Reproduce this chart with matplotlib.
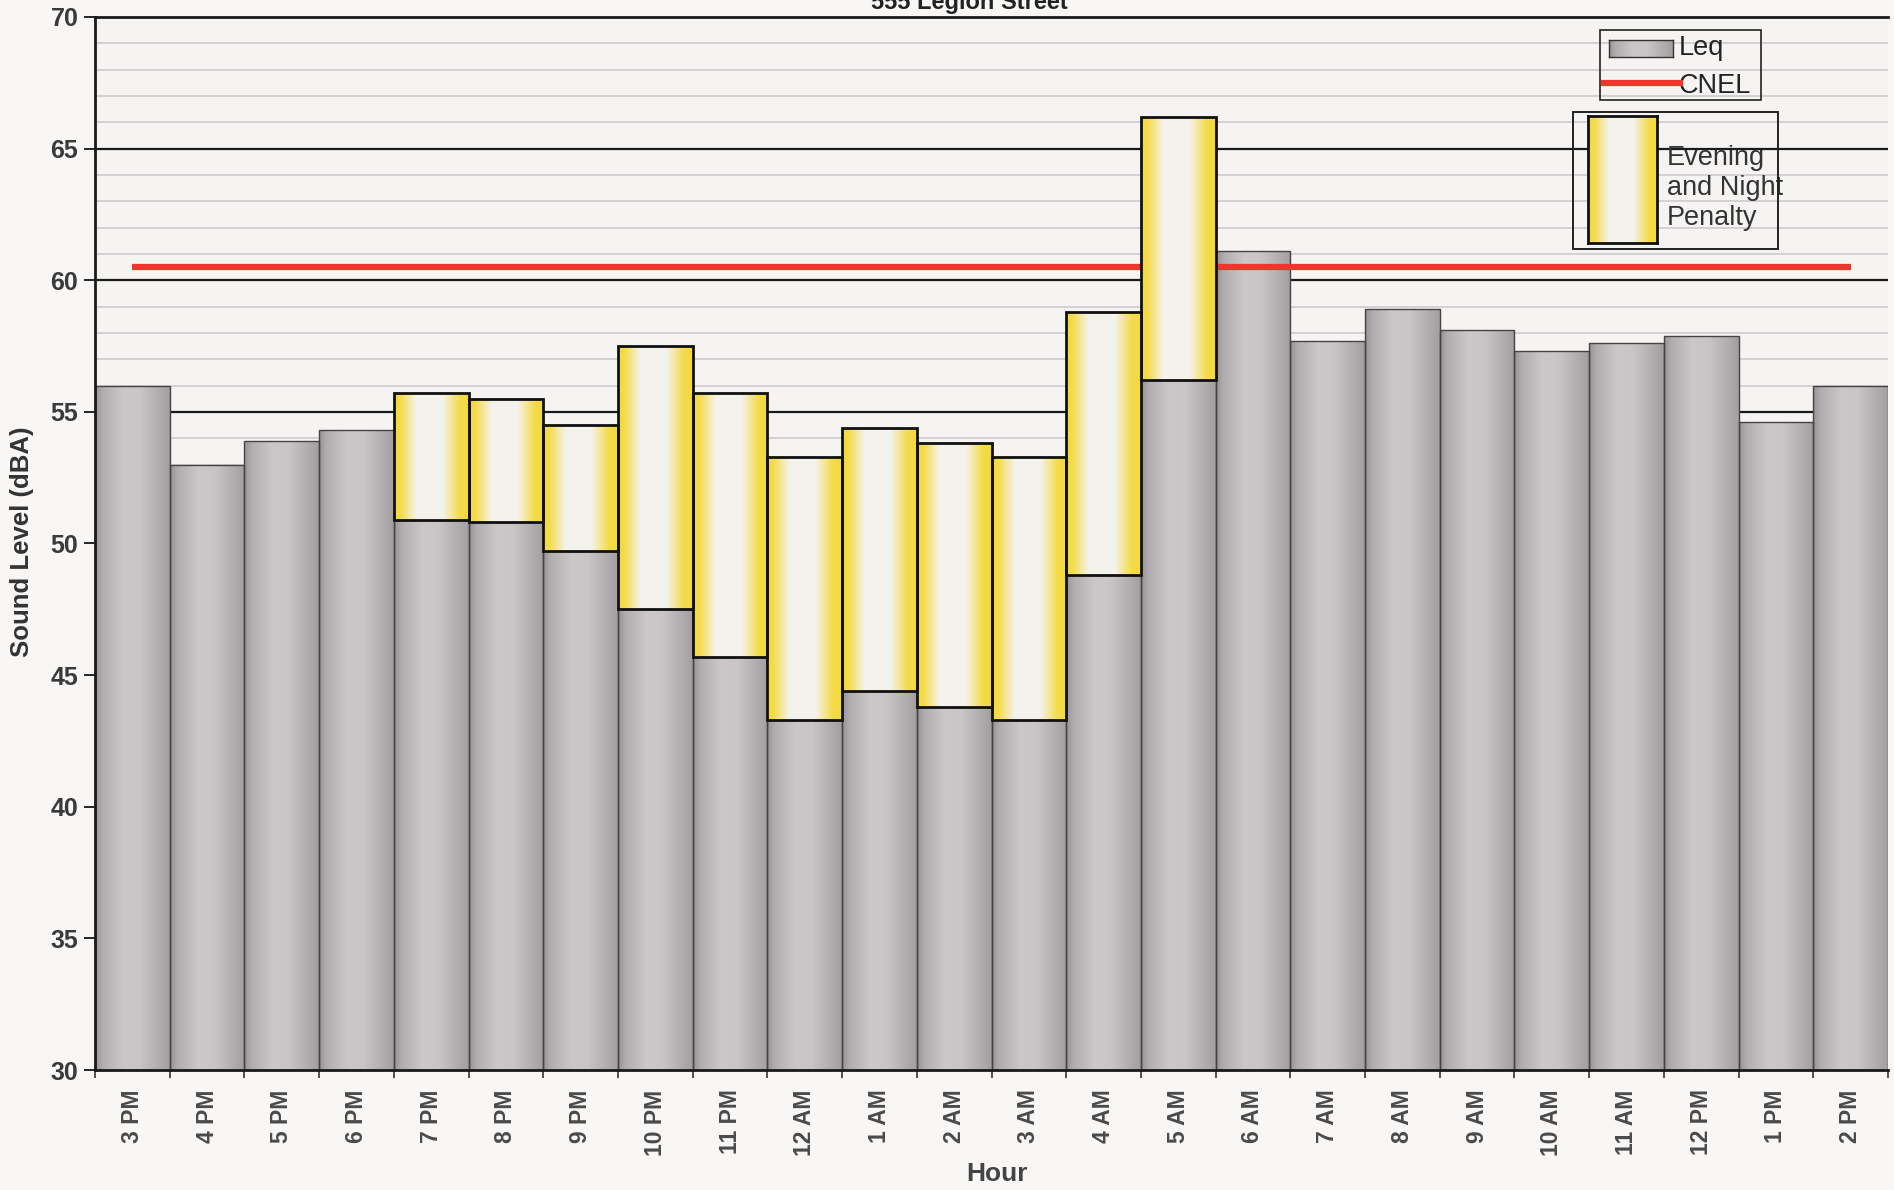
import matplotlib.pyplot as plt
import numpy as np
from matplotlib.patches import Rectangle
from matplotlib.lines import Line2D

plt.rcParams['font.family'] = ['Liberation Sans', 'DejaVu Sans']

# data
hours = ['3 PM', '4 PM', '5 PM', '6 PM', '7 PM', '8 PM', '9 PM', '10 PM', '11 PM',
         '12 AM', '1 AM', '2 AM', '3 AM', '4 AM', '5 AM', '6 AM', '7 AM', '8 AM',
         '9 AM', '10 AM', '11 AM', '12 PM', '1 PM', '2 PM']
leq = [56.0, 53.0, 53.9, 54.3, 50.9, 50.8, 49.7, 47.5, 45.7, 43.3, 44.4, 43.8,
       43.3, 48.8, 56.2, 61.1, 57.7, 58.9, 58.1, 57.3, 57.6, 57.9, 54.6, 56.0]
penalty = [0, 0, 0, 0, 4.8, 4.7, 4.8, 10, 10, 10, 10, 10,
           10, 10, 10, 0, 0, 0, 0, 0, 0, 0, 0, 0]
cnel = 60.5

W, H = 1894, 1190
fig = plt.figure(figsize=(W / 100, H / 100), dpi=100, facecolor='#f9f7f6')
ax = fig.add_axes([95 / W, 120 / H, (1888 - 95) / W, (1173 - 120) / H])
ax.set_facecolor('#f6f4f3')

# colour profiles across a bar (shading only)
t = np.linspace(0, 1, 64)
gw = np.interp(t, [0, 0.1, 0.38, 0.6, 0.9, 1], [0.0, 0.5, 1.0, 0.95, 0.4, 0.2])
gray_dark = np.array([0.60, 0.58, 0.59])
gray_light = np.array([0.80, 0.78, 0.79])
gray_grad = gray_dark + gw[:, None] * (gray_light - gray_dark)

yw = np.interp(t, [0, 0.08, 0.3, 0.65, 0.88, 1], [0.0, 0.1, 1.0, 1.0, 0.1, 0.0])
yel = np.array([0.96, 0.85, 0.22])
wht = np.array([0.96, 0.95, 0.93])
yel_grad = yel + yw[:, None] * (wht - yel)


def shade(rect, grad, z):
    x0, y0 = rect.get_x(), rect.get_y()
    x1, y1 = x0 + rect.get_width(), y0 + rect.get_height()
    im = ax.imshow(grad[None, :, :], extent=[x0, x1, y0, y1], aspect='auto',
                   interpolation='bilinear', zorder=z)
    im.set_clip_path(rect)


x = np.arange(len(hours))

# grid lines
for v in range(31, 70):
    if v % 5 == 0:
        ax.axhline(v, color='#1a1a1a', lw=1.6, zorder=1)
    else:
        ax.axhline(v, color='#cdcbcc', lw=1.2, zorder=0.5)

bars = ax.bar(x, np.array(leq) - 30, bottom=30, width=1.0, facecolor='none',
              edgecolor='#454343', lw=1.0, zorder=3)
for b in bars:
    shade(b, gray_grad, 2)

ax.hlines(cnel, x[0], x[-1], color='#e63a2e', lw=4.5, zorder=4)

pen_h = np.array(penalty, dtype=float)
for xi, base, p in zip(x, leq, pen_h):
    if p > 0:
        r = Rectangle((xi - 0.5, base), 1.0, p, facecolor='none',
                      edgecolor='#111111', lw=2.0, zorder=6)
        ax.add_patch(r)
        shade(r, yel_grad, 5)

ax.set_xlim(-0.5, len(hours) - 0.5)
ax.set_ylim(30, 70)
ax.set_yticks(range(30, 71, 5))
ax.set_xticks(x)
ax.set_xticklabels(hours, rotation=90, fontsize=16.5, fontweight='bold', color='#4a4a4a')
ax.set_xticks(np.arange(-0.5, len(hours), 1), minor=True)
ax.tick_params(axis='x', which='major', length=0, pad=14)
ax.tick_params(axis='x', which='minor', length=6, width=1.2, color='#333333')
ax.tick_params(axis='y', length=8, width=1.2, pad=4, labelsize=18, labelcolor='#3a3a3a')
for lab in ax.get_yticklabels():
    lab.set_fontweight('bold')

for s in ['left', 'bottom', 'top']:
    ax.spines[s].set_linewidth(2)
    ax.spines[s].set_color('#1a1a1a')
    ax.spines[s].set_zorder(7)
ax.spines['right'].set_visible(False)

fig.text(22 / W, 1 - 542 / H, 'Sound Level (dBA)', rotation=90, ha='center', va='center',
         fontsize=18.5, fontweight='bold', color='#333333')
fig.text(997 / W, 1 - 1174 / H, 'Hour', ha='center', va='center',
         fontsize=19, fontweight='bold', color='#444444')
fig.text(969 / W, 1 - 9 / H, '555 Legion Street', ha='center', va='baseline',
         fontsize=17, fontweight='bold', color='#222222')


def fx(px):
    return px / W


def fy(py):
    return 1 - py / H


# legend box 1
fig.patches.append(Rectangle((fx(1600), fy(100)), fx(161), 70 / H, transform=fig.transFigure,
                             facecolor='none', edgecolor='#222222', lw=1.2, zorder=8))
lg = fig.add_axes([fx(1609), fy(57), fx(64), 17 / H])
lg.imshow(gray_grad[None, :, :], aspect='auto')
lg.set_xticks([])
lg.set_yticks([])
for s in lg.spines.values():
    s.set_linewidth(1)
    s.set_color('#333333')
fig.lines.append(Line2D([fx(1604), fx(1680)], [fy(83), fy(83)], transform=fig.transFigure,
                        color='#e63a2e', lw=4.5, zorder=9))
fig.text(fx(1679), fy(48), 'Leq', ha='left', va='center', fontsize=19.5, color='#222222')
fig.text(fx(1679), fy(86), 'CNEL', ha='left', va='center', fontsize=19.5, color='#222222')

# legend box 2
fig.patches.append(Rectangle((fx(1573), fy(249)), fx(205), 137 / H, transform=fig.transFigure,
                             facecolor='none', edgecolor='#222222', lw=1.4, zorder=8))
ly = fig.add_axes([fx(1588), fy(243), fx(69), 127 / H])
ly.imshow(yel_grad[None, :, :], aspect='auto')
ly.set_xticks([])
ly.set_yticks([])
for s in ly.spines.values():
    s.set_linewidth(2)
    s.set_color('#111111')
fig.text(fx(1667), fy(188), 'Evening\nand Night\nPenalty', ha='left', va='center',
         fontsize=19.5, color='#333333', linespacing=1.22)

fig.savefig('out.png', dpi=100, facecolor=fig.get_facecolor())
